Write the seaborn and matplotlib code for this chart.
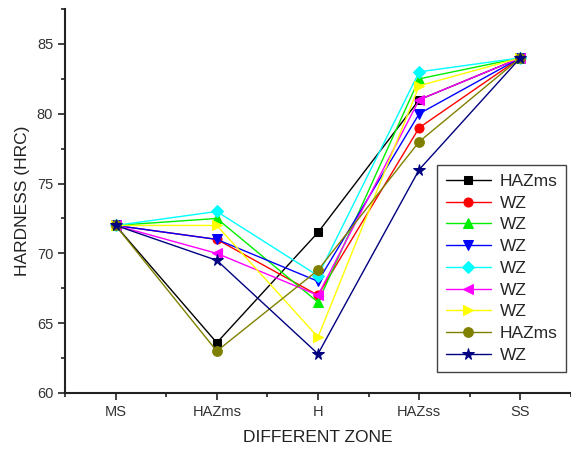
import matplotlib
matplotlib.use("Agg")
import matplotlib.pyplot as plt
import seaborn as sns
import numpy as np
import pandas as pd
from matplotlib.ticker import MultipleLocator

zones = ["MS", "HAZms", "H", "HAZss", "SS"]
labels = ["HAZms", "WZ", "WZ", "WZ", "WZ", "WZ", "WZ", "HAZms", "WZ"]
s_black = [72, 63.6, 71.5, 81, 84]
s_red = [72, 71, 67, 79, 84]
s_green = [72, 72.5, 66.5, 82.5, 84]
s_blue = [72, 71, 68, 80, 84]
s_cyan = [72, 73, 68.4, 83, 84]
s_magenta = [72, 70, 67, 81, 84]
s_yellow = [72, 72, 64, 82, 84]
s_olive = [72, 63, 68.8, 78, 84]
s_navy = [72, 69.5, 62.8, 76, 84]
series = [s_black, s_red, s_green, s_blue, s_cyan, s_magenta, s_yellow, s_olive, s_navy]
colors = ["#000000", "#ff0000", "#00ee00", "#0000ff", "#00ffff", "#ff00ff", "#ffff00", "#808000", "#000080"]
markers = ["s", "o", "^", "v", "D", "<", ">", "o", "*"]
msizes = [6, 6.5, 7, 7, 6, 7, 7, 7, 8.5]

sns.set_style("ticks")
plt.rcParams["font.family"] = ["Liberation Sans", "DejaVu Sans"]

fig = plt.figure(figsize=(5.71, 4.49), dpi=100)
ax = fig.add_axes([65/571, 56/449, 506/571, 384/449])

pos = np.arange(len(zones))
for i, (lab, vals) in enumerate(zip(labels, series)):
    df = pd.DataFrame({"zone": pos, "hardness": vals})
    sns.lineplot(data=df, x="zone", y="hardness", ax=ax, color=colors[i],
                 marker=markers[i], markersize=msizes[i], markeredgecolor=colors[i],
                 linewidth=1.0, label=lab, sort=False, zorder=2 + i)

ax.set_xlim(-0.5, 4.5)
ax.set_ylim(60, 87.5)
ax.set_xticks(pos)
ax.set_xticklabels(zones)
ax.xaxis.set_minor_locator(MultipleLocator(0.5))
ax.yaxis.set_major_locator(MultipleLocator(5))
ax.yaxis.set_minor_locator(MultipleLocator(2.5))
ax.tick_params(axis="both", which="major", length=5, width=1.3, labelsize=10.5,
               colors="#333333", direction="out")
ax.tick_params(axis="both", which="minor", length=3, width=1.3, direction="out", color="#333333")
for sp in ["top", "right"]:
    ax.spines[sp].set_visible(False)
for sp in ["left", "bottom"]:
    ax.spines[sp].set_linewidth(1.5)
    ax.spines[sp].set_color("#222222")

ax.set_xlabel("DIFFERENT ZONE", fontsize=12.5, color="#222222", labelpad=8)
ax.set_ylabel("HARDNESS (HRC)", fontsize=12.5, color="#222222", labelpad=5)

leg = ax.legend(loc="upper left", bbox_to_anchor=(437/571, 1 - 165/449),
                bbox_transform=fig.transFigure, fontsize=12.5, frameon=True,
                fancybox=False, framealpha=1, edgecolor="#444444",
                handlelength=2.6, handletextpad=0.5, labelspacing=0.38,
                borderpad=0.5, borderaxespad=0)
leg.get_frame().set_linewidth(1.0)

fig.savefig("out.png", dpi=100)
